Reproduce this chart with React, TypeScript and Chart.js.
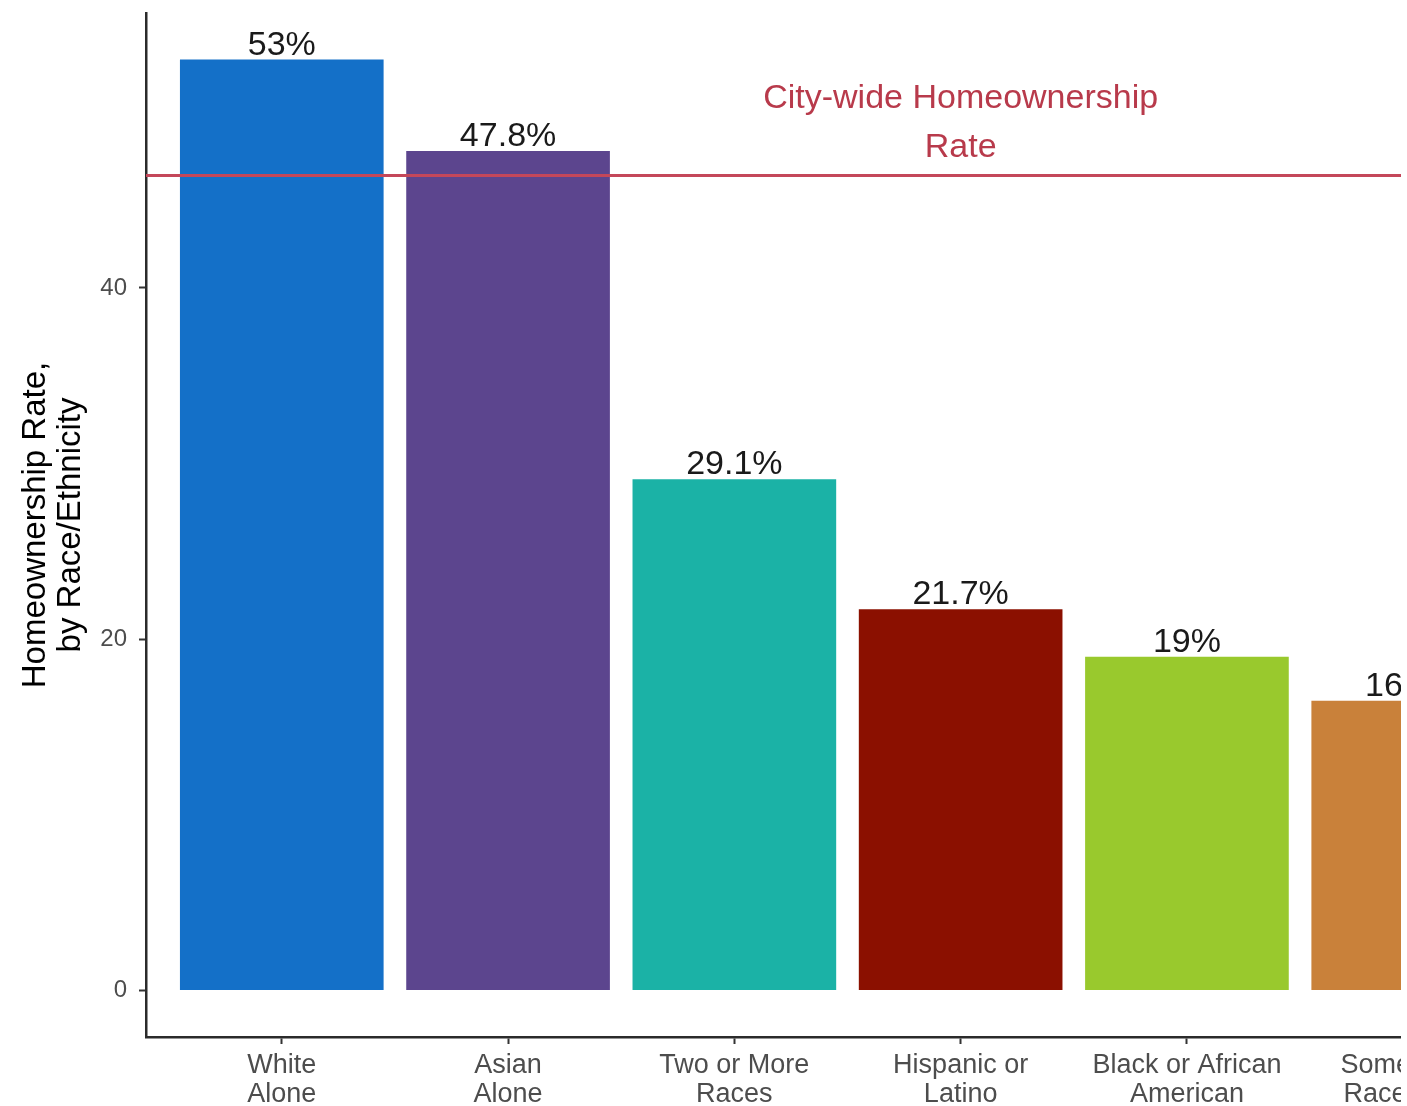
import React, { useEffect, useRef } from "react";
import { Chart, registerables } from "chart.js";

Chart.register(...registerables);

const categories = [
  "White\nAlone",
  "Asian\nAlone",
  "Two or More\nRaces",
  "Hispanic or\nLatino",
  "Black or African\nAmerican",
  "Some Other\nRace Alone",
];
const values = [53, 47.8, 29.1, 21.7, 19, 16.5];
const barColors = ["#1470C8", "#5C458E", "#1BB2A6", "#8B1000", "#99C92D", "#C9813A"];
const cityWideRate = 46.4;
const cityWideLabel = ["City-wide Homeownership", "Rate"];
const cityLabelAt = { x: 4, y: 49.4 };
const yTicks = [0, 20, 40];
const yTitle = ["Homeownership Rate,", "by Race/Ethnicity"];
const yMin = -2.65;
const yMax = 55.65;

const FONT = '"Liberation Sans", Arial, Helvetica, sans-serif';

export default function App() {
  const ref = useRef<HTMLCanvasElement>(null);

  useEffect(() => {
    if (!ref.current) return;
    Chart.defaults.font.family = FONT;

    const overlay = {
      id: "overlay",
      afterDatasetsDraw(chart: any) {
        const { ctx, chartArea, scales } = chart;
        const x = scales.x;
        const y = scales.y;
        ctx.save();
        // reference line
        const yp = y.getPixelForValue(cityWideRate);
        ctx.strokeStyle = "#C4475A";
        ctx.lineWidth = 3;
        ctx.beginPath();
        ctx.moveTo(chartArea.left, yp);
        ctx.lineTo(chartArea.right, yp);
        ctx.stroke();
        // annotation
        ctx.fillStyle = "#B83A4B";
        ctx.font = `34px ${FONT}`;
        ctx.textAlign = "center";
        ctx.textBaseline = "middle";
        const ax = x.getPixelForValue(cityLabelAt.x);
        const ay = y.getPixelForValue(cityLabelAt.y);
        const lh = 49;
        const n = cityWideLabel.length;
        cityWideLabel.forEach((t, i) => {
          ctx.fillText(t, ax, ay + (i - (n - 1) / 2) * lh);
        });
        // data labels
        const meta = chart.getDatasetMeta(0);
        ctx.fillStyle = "#1a1a1a";
        ctx.font = `34px ${FONT}`;
        ctx.textBaseline = "alphabetic";
        meta.data.forEach((bar: any, i: number) => {
          ctx.fillText(`${values[i]}%`, bar.x, bar.y - 5);
        });
        ctx.restore();
      },
    };

    const chart = new Chart(ref.current, {
      type: "bar",
      data: {
        datasets: [
          {
            data: values.map((v, i) => ({ x: i + 1, y: v })),
            backgroundColor: barColors,
            borderWidth: 0,
            barPercentage: 0.9,
            categoryPercentage: 1,
          },
        ],
      },
      options: {
        responsive: false,
        animation: false,
        devicePixelRatio: 1,
        layout: { padding: { top: 13, right: 24, left: 0, bottom: 0 } },
        plugins: {
          legend: { display: false },
          tooltip: { enabled: false },
        },
        scales: {
          x: {
            type: "linear",
            offset: false,
            min: 0.4,
            max: categories.length + 0.6,
            afterBuildTicks: (s: any) => {
              s.ticks = categories.map((_, i) => ({ value: i + 1 }));
            },
            afterFit: (s: any) => {
              s.height = 69;
              s.paddingLeft = 0;
              s.paddingRight = 0;
            },
            ticks: {
              callback: (v: any) => {
                const c = categories[Math.round(Number(v)) - 1];
                return c ? c.split("\n") : "";
              },
              color: "#4d4d4d",
              font: { size: 27, lineHeight: 1.04 },
              padding: 8,
              maxRotation: 0,
              minRotation: 0,
              autoSkip: false,
            },
            grid: {
              display: true,
              offset: false,
              drawOnChartArea: false,
              drawTicks: true,
              tickLength: 7,
              tickColor: "#333333",
              tickWidth: 2,
            },
            border: { display: true, color: "#2b2b2b", width: 2.5 },
          },
          y: {
            type: "linear",
            min: yMin,
            max: yMax,
            afterBuildTicks: (s: any) => {
              s.ticks = yTicks.map((v) => ({ value: v }));
            },
            afterFit: (s: any) => {
              s.width = 146;
              s.paddingTop = 0;
              s.paddingBottom = 0;
            },
            ticks: {
              color: "#4d4d4d",
              font: { size: 24 },
              padding: 12,
            },
            grid: {
              display: true,
              drawOnChartArea: false,
              drawTicks: true,
              tickLength: 7,
              tickColor: "#333333",
              tickWidth: 2,
            },
            border: { display: true, color: "#2b2b2b", width: 2.5 },
            title: {
              display: true,
              text: yTitle,
              color: "#000000",
              font: { size: 33, lineHeight: 1.06 },
              padding: { top: 18, bottom: 0 },
            },
          },
        },
      },
      plugins: [overlay],
    } as any);

    return () => chart.destroy();
  }, []);

  return (
    <div
      style={{
        position: "fixed",
        left: 0,
        top: 0,
        width: 1401,
        height: 1106,
        overflow: "hidden",
        background: "#ffffff",
      }}
    >
      <canvas ref={ref} width={1573} height={1106} style={{ display: "block" }} />
    </div>
  );
}
